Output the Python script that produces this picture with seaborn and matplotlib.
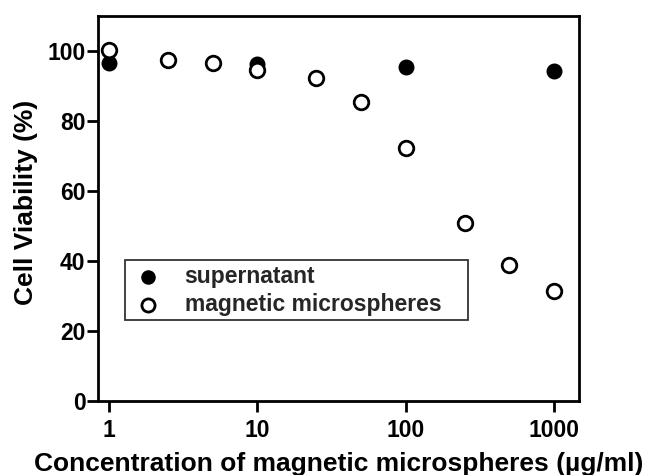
import matplotlib
matplotlib.use("Agg")
import matplotlib.pyplot as plt
import seaborn as sns
import pandas as pd
from matplotlib.ticker import FixedLocator, NullLocator, FixedFormatter

sns.set_theme(style="ticks")
plt.rcParams['font.family'] = ['Liberation Sans', 'DejaVu Sans']
plt.rcParams['font.weight'] = 'bold'

sup_x = [1, 10, 100, 1000]
sup_y = [96.7, 96.3, 95.3, 94.2]
mag_x = [1, 2.5, 5, 10, 25, 50, 100, 250, 500, 1000]
mag_y = [100.3, 97.5, 96.5, 94.5, 92.4, 85.3, 72.3, 51.0, 39.0, 31.3]
xticks = [1, 10, 100, 1000]
xtick_labels = ["1", "10", "100", "1000"]
yticks = [0, 20, 40, 60, 80, 100]

df_sup = pd.DataFrame({"x": sup_x, "y": sup_y})
df_mag = pd.DataFrame({"x": mag_x, "y": mag_y})

fig = plt.figure(figsize=(6.45, 4.75), dpi=100)
ax = fig.add_axes([98/645, (475-401)/475, 481/645, 385/475])

sns.scatterplot(data=df_sup, x="x", y="y", ax=ax, marker="o", s=110,
                color="black", edgecolor="black", linewidth=1.0,
                label="supernatant", zorder=3)
sns.scatterplot(data=df_mag, x="x", y="y", ax=ax, marker="o", s=110,
                facecolor="white", edgecolor="black", linewidth=2.0,
                label="magnetic microspheres", zorder=4)

ax.set_xscale("log")
ax.set_xlim(0.843, 1475)
ax.set_ylim(0, 110)
ax.xaxis.set_major_locator(FixedLocator(xticks))
ax.xaxis.set_major_formatter(FixedFormatter(xtick_labels))
ax.xaxis.set_minor_locator(NullLocator())
ax.set_yticks(yticks)

for s in ax.spines.values():
    s.set_linewidth(2.0)
    s.set_color("black")
ax.tick_params(axis="both", which="major", length=8, width=2.0,
               labelsize=16.5, color="black", labelcolor="black")
ax.tick_params(axis="y", pad=1)
ax.tick_params(axis="x", pad=5)
for lab in ax.get_xticklabels() + ax.get_yticklabels():
    lab.set_fontweight("bold")

ax.set_xlabel("Concentration of magnetic microspheres (µg/ml)",
              fontsize=19, fontweight="bold", color="black")
ax.set_ylabel("Cell Viability (%)", fontsize=19, fontweight="bold",
              color="black")
ax.xaxis.set_label_coords(0.5, -0.132)
ax.yaxis.set_label_coords(-0.125, 0.515)

leg = ax.legend(loc="lower left", bbox_to_anchor=(0.056, 0.21, 0.713, 0.156),
                mode="expand", frameon=True, fancybox=False,
                prop={"weight": "bold", "size": 16.5}, borderaxespad=0,
                borderpad=0.2, handlelength=1.6, handletextpad=0.8,
                labelspacing=0.2, markerscale=0.9)
leg.get_frame().set_edgecolor("black")
leg.get_frame().set_linewidth(1.3)

fig.savefig("out.png", dpi=100)
